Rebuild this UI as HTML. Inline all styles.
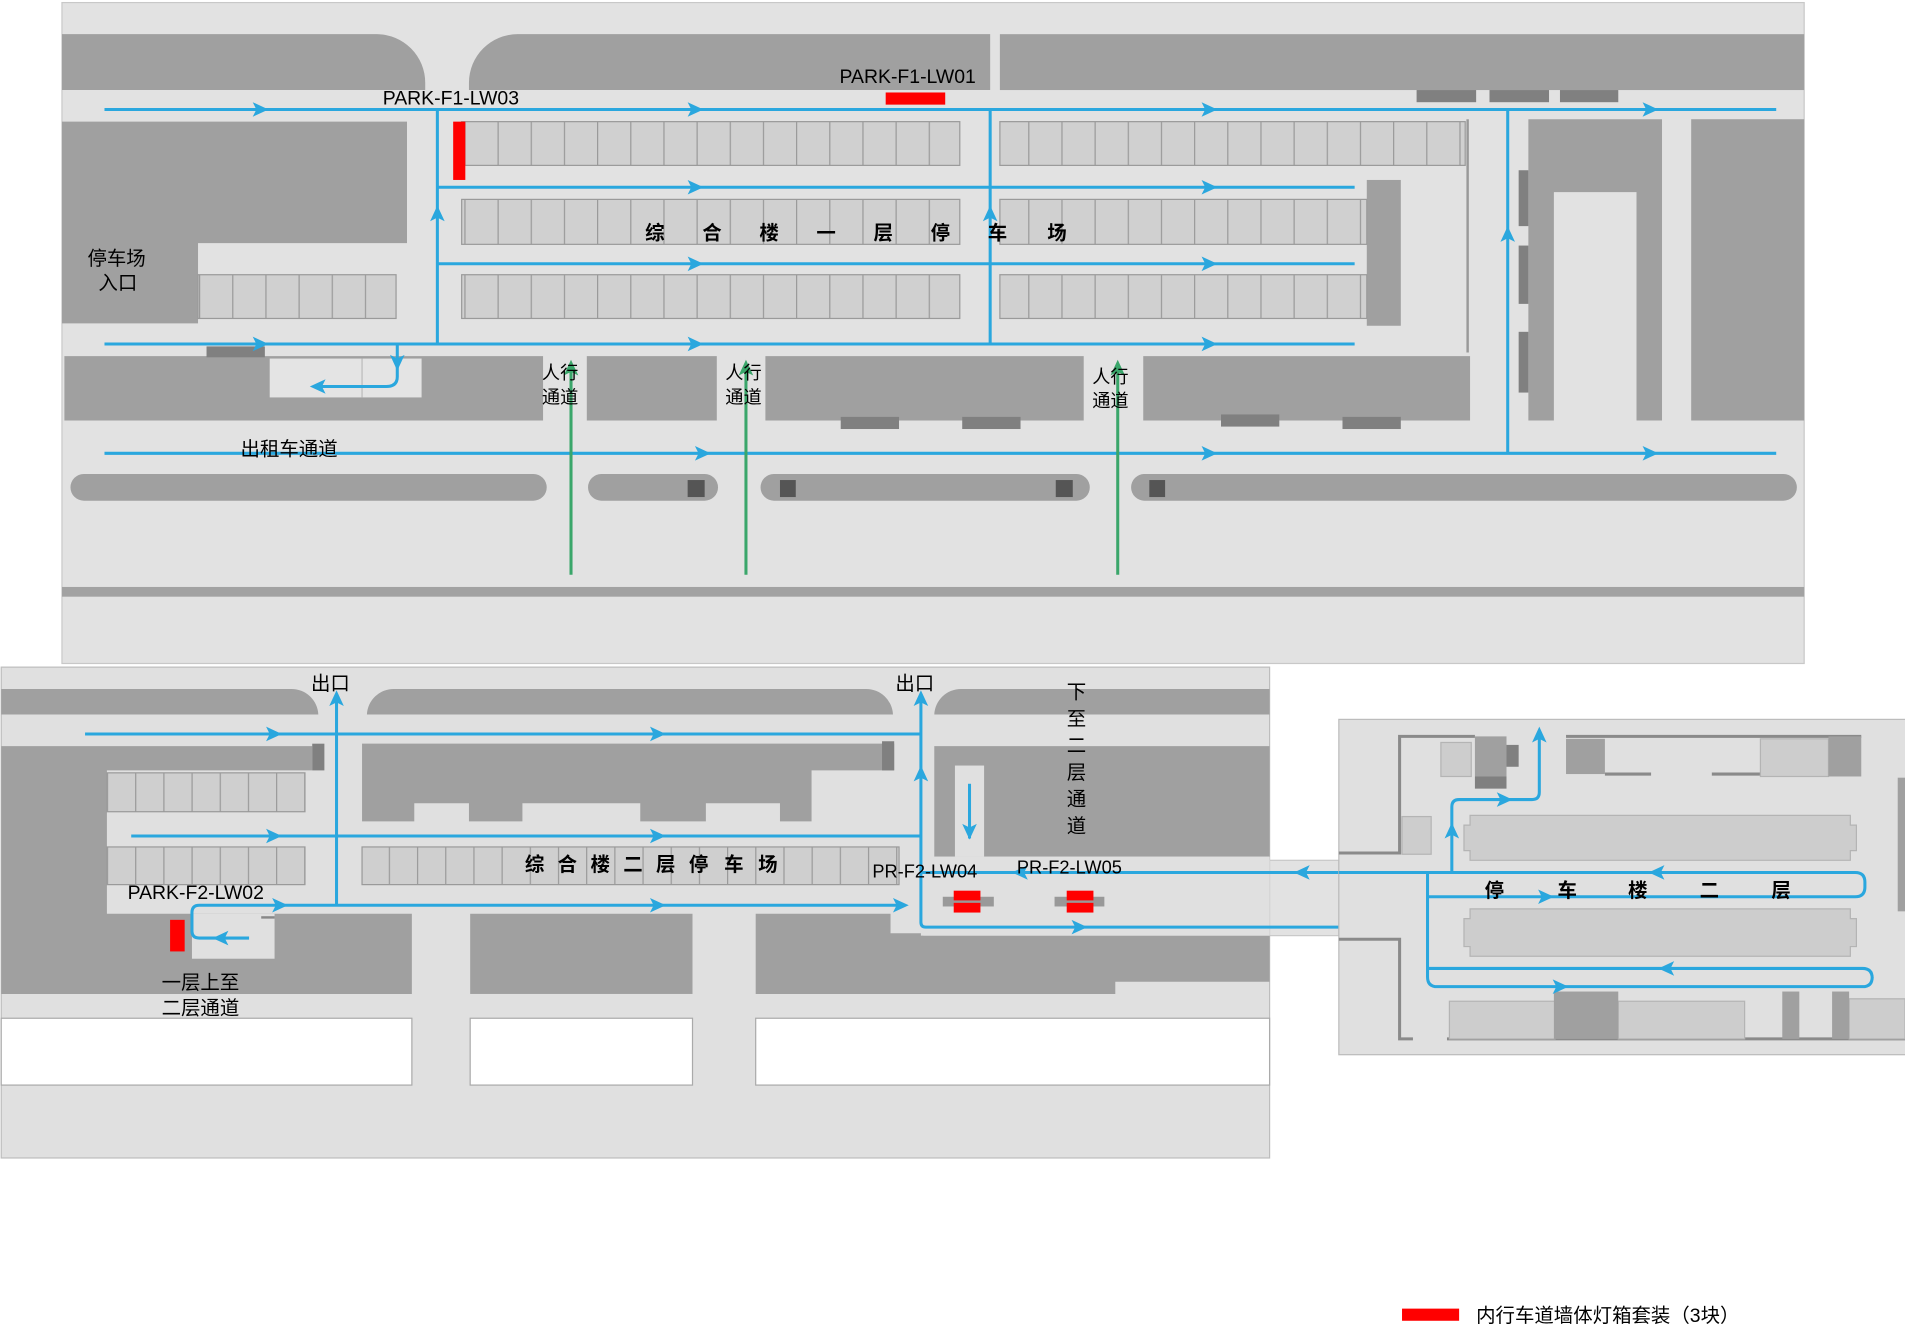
<!DOCTYPE html>
<html><head><meta charset="utf-8"><style>
html,body{margin:0;padding:0;background:#fff;}
svg{display:block;}
text{font-family:"Liberation Sans","Noto Sans CJK SC",sans-serif;fill:#000;}
.cn{font-size:16px;}
.b{font-weight:bold;}
</style></head><body>
<svg width="1905" height="1344" viewBox="0 0 1568 1106" xmlns="http://www.w3.org/2000/svg">
<defs>
<pattern id="st" x="0" y="0" width="27.3" height="40" patternUnits="userSpaceOnUse">
<rect width="27.3" height="40" fill="#d0d0d0"/><line x1="0.5" y1="0" x2="0.5" y2="40" stroke="#9a9a9a" stroke-width="1"/>
</pattern>
<pattern id="st2" x="88" y="0" width="23.2" height="40" patternUnits="userSpaceOnUse">
<rect width="23.2" height="40" fill="#cfcfcf"/><line x1="0.5" y1="0" x2="0.5" y2="40" stroke="#9a9a9a"/>
</pattern>
<path id="ar" d="M-6,-6 L7,0 L-6,6 L-3,0 Z" fill="#2aa7de"/>
<path id="ag" d="M-6,-6 L7,0 L-6,6 L-3,0 Z" fill="#3aa66a"/>
</defs>

<!-- ================= TOP PANEL ================= -->
<rect x="51" y="2" width="1434" height="544" fill="#e2e2e2" stroke="#c8c8c8"/>
<rect x="51" y="483" width="1434" height="8" fill="#a2a2a2"/>
<g fill="#a0a0a0">
<path d="M51,28 H310 A40,40 0 0 1 350,68 V74 H51 Z"/>
<path d="M426,28 H815 V74 H386 V68 A40,40 0 0 1 426,28 Z"/>
<rect x="823" y="28" width="662" height="46"/>
<path d="M51,100 H335 V200 H163 V266 H51 Z"/>
<rect x="53" y="293" width="394" height="53"/>
<rect x="483" y="293" width="107" height="53"/>
<rect x="630" y="293" width="262" height="53"/>
<rect x="941" y="293" width="269" height="53"/>
<rect x="1125" y="148" width="28" height="120"/>
<path d="M1258,98 H1368 V346 H1347 V158 H1279 V346 H1258 Z"/>
<rect x="1392" y="98" width="93" height="248"/>
<rect x="58" y="390" width="392" height="22" rx="11"/>
<rect x="484" y="390" width="107" height="22" rx="11"/>
<rect x="626" y="390" width="271" height="22" rx="11"/>
<rect x="931" y="390" width="548" height="22" rx="11"/>
</g>
<rect x="222" y="295" width="125" height="32" fill="#e4e4e4"/>
<line x1="298" y1="295" x2="298" y2="327" stroke="#bbb"/>
<g fill="#808080">
<rect x="1166" y="74" width="49" height="10"/><rect x="1226" y="74" width="49" height="10"/><rect x="1284" y="74" width="48" height="10"/>
<rect x="170" y="285" width="48" height="9"/>
<rect x="692" y="343" width="48" height="10"/><rect x="792" y="343" width="48" height="10"/>
<rect x="1005" y="341" width="48" height="10"/><rect x="1105" y="343" width="48" height="10"/>
<rect x="1250" y="140" width="8" height="46"/><rect x="1250" y="202" width="8" height="48"/><rect x="1250" y="273" width="8" height="50"/>
</g>
<g fill="#555">
<rect x="566" y="395" width="14" height="14"/><rect x="642" y="395" width="13" height="14"/><rect x="869" y="395" width="14" height="14"/><rect x="946" y="395" width="13" height="14"/>
</g>
<line x1="1208" y1="98" x2="1208" y2="290" stroke="#999" stroke-width="2"/>
<!-- stalls -->
<g stroke="#9a9a9a" stroke-width="1">
<rect x="380" y="100" width="410" height="36" fill="url(#st)"/>
<rect x="380" y="164" width="410" height="37" fill="url(#st)"/>
<rect x="380" y="226" width="410" height="36" fill="url(#st)"/>
<rect x="823" y="100" width="383" height="36" fill="url(#st)"/>
<rect x="823" y="164" width="302" height="37" fill="url(#st)"/>
<rect x="823" y="226" width="302" height="36" fill="url(#st)"/>
<rect x="163" y="226" width="163" height="36" fill="url(#st)"/>
</g>
<!-- red -->
<rect x="373" y="100" width="10" height="48" fill="#f00"/>
<rect x="729" y="76" width="49" height="10" fill="#f00"/>
<!-- blue lines -->
<g stroke="#2aa7de" stroke-width="2.5" fill="none">
<line x1="86" y1="90" x2="1462" y2="90"/>
<line x1="360" y1="154" x2="1115" y2="154"/>
<line x1="360" y1="217" x2="1115" y2="217"/>
<line x1="86" y1="283" x2="1115" y2="283"/>
<line x1="360" y1="90" x2="360" y2="283"/>
<line x1="815" y1="90" x2="815" y2="283"/>
<line x1="1241" y1="90" x2="1241" y2="373"/>
<line x1="86" y1="373" x2="1462" y2="373"/>
<path d="M327,283 V310 Q327,318 318,318 H258"/>
</g>
<g>
<use href="#ar" x="214" y="90"/><use href="#ar" x="572" y="90"/><use href="#ar" x="995" y="90"/><use href="#ar" x="1358" y="90"/>
<use href="#ar" x="572" y="154"/><use href="#ar" x="995" y="154"/>
<use href="#ar" x="572" y="217"/><use href="#ar" x="995" y="217"/>
<use href="#ar" x="214" y="283"/><use href="#ar" x="572" y="283"/><use href="#ar" x="995" y="283"/>
<use href="#ar" x="578" y="373"/><use href="#ar" x="995" y="373"/><use href="#ar" x="1358" y="373"/>
<use href="#ar" transform="translate(360,176) rotate(-90)"/>
<use href="#ar" transform="translate(815,176) rotate(-90)"/>
<use href="#ar" transform="translate(1241,193) rotate(-90)"/>
<use href="#ar" transform="translate(327,298) rotate(90)"/>
<use href="#ar" transform="translate(262,318) rotate(180)"/>
</g>
<g stroke="#3aa66a" stroke-width="2.5">
<line x1="470" y1="300" x2="470" y2="473"/><line x1="614" y1="300" x2="614" y2="473"/><line x1="920" y1="300" x2="920" y2="473"/>
</g>
<use href="#ag" transform="translate(470,303) rotate(-90)"/>
<use href="#ag" transform="translate(614,303) rotate(-90)"/>
<use href="#ag" transform="translate(920,303) rotate(-90)"/>
<!-- top texts -->
<text x="315" y="86" font-size="16">PARK-F1-LW03</text>
<text x="691" y="68" font-size="16">PARK-F1-LW01</text>
<text x="72" y="218" class="cn">停车场</text>
<text x="81" y="238" class="cn">入口</text>
<text x="446" y="312" font-size="15">人行</text><text x="446" y="332" font-size="15">通道</text>
<text x="597" y="312" font-size="15">人行</text><text x="597" y="332" font-size="15">通道</text>
<text x="899" y="315" font-size="15">人行</text><text x="899" y="335" font-size="15">通道</text>
<text x="198" y="375" class="cn">出租车通道</text>
<g class="b cn"><text x="531" y="197">综</text><text x="578" y="197">合</text><text x="625" y="197">楼</text><text x="672" y="197">一</text><text x="719" y="197">层</text><text x="766" y="197">停</text><text x="813" y="197">车</text><text x="862" y="197">场</text></g>

<!-- ================= BOTTOM PANEL ================= -->
<rect x="1" y="549" width="1044" height="404" fill="#e0e0e0" stroke="#bdbdbd"/>
<rect x="1045" y="708" width="57" height="62" fill="#e2e2e2" stroke="#c8c8c8"/>
<g fill="#a0a0a0">
<path d="M1,567 H240 A22,22 0 0 1 262,588 H1 Z"/>
<path d="M324,567 H713 A22,22 0 0 1 735,588 H302 A22,22 0 0 1 324,567 Z"/>
<path d="M791,567 H1045 V588 H769 A22,22 0 0 1 791,567 Z"/>
<path d="M1,614 H257 V634 H88 V752 H339 V818 H1 Z"/>
<path d="M298,612 H736 V634 H668 V676 H642 V661 H581 V676 H527 V661 H430 V676 H386 V661 H341 V676 H298 Z"/>
<rect x="387" y="752" width="183" height="66"/>
<path d="M622,752 H733 V768 H760 V770 H1045 V808 H918 V818 H622 Z"/>
<path d="M769,614 H1045 V705 H769 Z"/>
</g>
<rect x="158" y="752" width="68" height="37" fill="#e0e0e0"/>
<line x1="215" y1="755" x2="226" y2="755" stroke="#888" stroke-width="2"/>
<rect x="786" y="630" width="24" height="75" fill="#e0e0e0"/>
<rect x="758" y="705" width="287" height="65" fill="#e0e0e0"/>
<g fill="#808080"><rect x="257" y="612" width="10" height="22"/><rect x="726" y="610" width="10" height="24"/></g>
<g stroke="#9a9a9a">
<rect x="88" y="636" width="163" height="32" fill="url(#st2)"/>
<rect x="88" y="697" width="163" height="31" fill="url(#st2)"/>
<rect x="298" y="697" width="442" height="31" fill="url(#st2)"/>
</g>
<g fill="#fff" stroke="#aaa">
<rect x="1" y="838" width="338" height="55"/><rect x="387" y="838" width="183" height="55"/><rect x="622" y="838" width="423" height="55"/>
</g>
<rect x="140" y="757" width="12" height="26" fill="#f00"/>
<g fill="#999"><rect x="776" y="738" width="42" height="8"/><rect x="868" y="738" width="41" height="8"/></g>
<g fill="#f00"><rect x="785" y="733" width="22" height="8"/><rect x="785" y="743" width="22" height="8"/><rect x="878" y="733" width="22" height="8"/><rect x="878" y="743" width="22" height="8"/></g>
<g stroke="#2aa7de" stroke-width="2.5" fill="none">
<line x1="70" y1="604" x2="758" y2="604"/>
<line x1="108" y1="688" x2="758" y2="688"/>
<path d="M745,745 H164 Q158,745 158,751 V766 Q158,772 164,772 H205"/>
<line x1="277" y1="576" x2="277" y2="745"/>
<path d="M758,576 V759 Q758,763 762,763 H1175"/>
<path d="M1102,718 H758"/>
<line x1="798" y1="645" x2="798" y2="690"/>
</g>
<g>
<use href="#ar" x="225" y="604"/><use href="#ar" x="541" y="604"/>
<use href="#ar" x="225" y="688"/><use href="#ar" x="541" y="688"/>
<use href="#ar" x="230" y="745"/><use href="#ar" x="541" y="745"/><use href="#ar" x="741" y="745"/>
<use href="#ar" x="888" y="763"/><use href="#ar" x="1130" y="763"/>
<use href="#ar" transform="translate(1072,718) rotate(180)"/>
<use href="#ar" transform="translate(840,718) rotate(180)"/>
<use href="#ar" transform="translate(182,772) rotate(180)"/>
<use href="#ar" transform="translate(277,575) rotate(-90)"/>
<use href="#ar" transform="translate(758,575) rotate(-90)"/>
<use href="#ar" transform="translate(758,637) rotate(-90)"/>
<use href="#ar" transform="translate(798,684) rotate(90)"/>
</g>
<text x="256" y="568" class="cn">出口</text>
<text x="737" y="568" class="cn">出口</text>
<g class="cn"><text x="878" y="575">下</text><text x="878" y="597">至</text><text x="878" y="619">二</text><text x="878" y="641">层</text><text x="878" y="663">通</text><text x="878" y="685">道</text></g>
<text x="718" y="722" font-size="15">PR-F2-LW04</text>
<text x="837" y="719" font-size="15">PR-F2-LW05</text>
<text x="105" y="740" font-size="16">PARK-F2-LW02</text>
<text x="133" y="814" class="cn">一层上至</text>
<text x="133" y="835" class="cn">二层通道</text>
<g class="b cn"><text x="432" y="717">综</text><text x="459" y="717">合</text><text x="486" y="717">楼</text><text x="513" y="717">二</text><text x="540" y="717">层</text><text x="567" y="717">停</text><text x="596" y="717">车</text><text x="624" y="717">场</text></g>

<!-- ================= RIGHT PANEL ================= -->
<rect x="1102" y="592" width="470" height="276" fill="#e0e0e0" stroke="#bbb"/>
<g fill="none" stroke="#8a8a8a" stroke-width="2.5">
<path d="M1102,702 H1152 V606 H1214"/>
<path d="M1102,773 H1152 V855 H1163"/>
<path d="M1289,606 H1532"/>
<path d="M1321,637 H1359 M1409,637 H1449"/>
<path d="M1191,855 H1568"/>
</g>
<g fill="#cdcdcd" stroke="#b4b4b4">
<rect x="1186" y="611" width="25" height="28"/>
<rect x="1154" y="672" width="24" height="31"/>
<rect x="1449" y="608" width="56" height="31"/>
<path d="M1210,671 H1523 V679 H1528 V700 H1523 V708 H1210 V700 H1205 V679 H1210 Z"/>
<path d="M1210,748 H1523 V756 H1528 V779 H1523 V787 H1210 V779 H1205 V756 H1210 Z"/>
<rect x="1193" y="824" width="87" height="31"/>
<rect x="1332" y="824" width="104" height="31"/>
<rect x="1522" y="822" width="46" height="33"/>
</g>
<g fill="#a0a0a0">
<rect x="1214" y="606" width="26" height="33"/>
<rect x="1289" y="608" width="32" height="29"/>
<rect x="1505" y="606" width="27" height="33"/>
<rect x="1279" y="816" width="53" height="39"/>
<rect x="1467" y="816" width="14" height="39"/>
<rect x="1508" y="816" width="14" height="39"/>
<rect x="1562" y="640" width="6" height="110"/>
</g>
<g fill="#808080"><rect x="1240" y="613" width="10" height="18"/><rect x="1214" y="639" width="26" height="10"/></g>
<g stroke="#2aa7de" stroke-width="2.5" fill="none">
<path d="M1102,718 H1527 Q1535,718 1535,726 V730 Q1535,738 1527,738 H1175"/>
<path d="M1175,718 V804 Q1175,812 1183,812 H1533 Q1541,812 1541,804 V805 Q1541,797 1533,797 H1175"/>
<path d="M1195,718 V664 Q1195,658 1201,658 H1261 Q1267,658 1267,652 V604"/>
</g>
<g>
<use href="#ar" x="1272" y="738"/><use href="#ar" x="1284" y="812"/><use href="#ar" x="1238" y="658"/>
<use href="#ar" transform="translate(1364,718) rotate(180)"/>
<use href="#ar" transform="translate(1372,797) rotate(180)"/>
<use href="#ar" transform="translate(1195,684) rotate(-90)"/>
<use href="#ar" transform="translate(1267,605) rotate(-90)"/>
</g>
<g class="b cn"><text x="1222" y="738">停</text><text x="1282" y="738">车</text><text x="1340" y="738">楼</text><text x="1399" y="738">二</text><text x="1458" y="738">层</text></g>

<!-- legend -->
<rect x="1154" y="1077" width="47" height="10" fill="#f00"/>
<text x="1215" y="1088" class="cn">内行车道墙体灯箱套装（3块）</text>
</svg>
</body></html>
